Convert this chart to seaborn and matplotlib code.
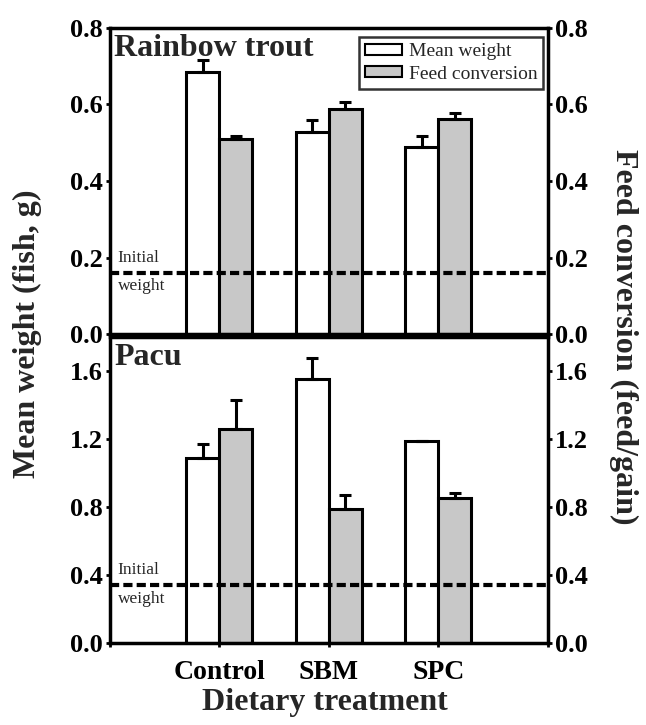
import matplotlib
matplotlib.use("Agg")
import matplotlib.pyplot as plt
import seaborn as sns
import pandas as pd
import numpy as np
from matplotlib.patches import Patch

sns.set_theme(style="white")
plt.rcParams['font.family'] = ['Liberation Serif', 'DejaVu Serif']
plt.rcParams['font.weight'] = 'bold'

treatments = ["Control", "SBM", "SPC"]
measures = ["Mean weight", "Feed conversion"]

trout_weight = [0.685, 0.528, 0.489]
trout_weight_err = [0.031, 0.032, 0.029]
trout_fcr = [0.510, 0.588, 0.562]
trout_fcr_err = [0.008, 0.018, 0.015]
trout_initial = 0.16

pacu_weight = [1.09, 1.553, 1.19]
pacu_weight_err = [0.08, 0.125, 0.0]
pacu_fcr = [1.26, 0.79, 0.855]
pacu_fcr_err = [0.17, 0.08, 0.03]
pacu_initial = 0.34

palette = {"Mean weight": "white", "Feed conversion": "#c8c8c8"}

fig = plt.figure(figsize=(6.46, 7.25), dpi=100)
ax_top = fig.add_axes([0.170, 0.5393, 0.678, 0.4221])
ax_bot = fig.add_axes([0.170, 0.1131, 0.678, 0.4221])

def draw(ax, w, we, f, fe, init, ylim, yticks, title, show_legend):
    df = pd.DataFrame({
        "treatment": treatments * 2,
        "measure": [measures[0]] * 3 + [measures[1]] * 3,
        "value": list(w) + list(f),
    })
    sns.barplot(data=df, x="treatment", y="value", hue="measure",
                order=treatments, hue_order=measures, palette=palette,
                edgecolor="black", linewidth=2.2, width=0.6, errorbar=None,
                ax=ax, legend=False, zorder=2, saturation=1)
    for cont, errs in zip(ax.containers, [we, fe]):
        xs = [p.get_x() + p.get_width() / 2 for p in cont]
        ys = [p.get_height() for p in cont]
        ax.errorbar(xs, ys, yerr=[np.zeros(len(errs)), errs], fmt="none",
                    ecolor="black", elinewidth=2.2, capsize=4, capthick=2.2,
                    zorder=3)
    ax.axhline(init, color="black", lw=3, ls=(0, (2.2, 1.0)), zorder=4)
    span = ylim[1] - ylim[0]
    ax.text(-0.93, init + 0.022 * span, "Initial", fontsize=12.5,
            fontweight="normal", ha="left", va="bottom", zorder=5)
    ax.text(-0.93, init - 0.018 * span, "weight", fontsize=12.5,
            fontweight="normal", ha="left", va="top", zorder=5)
    ax.set_xlim(-1, 3)
    ax.set_ylim(*ylim)
    ax.set_yticks(yticks)
    ax.set_yticklabels([f"{t:.1f}" for t in yticks])
    ax.set_xlabel("")
    ax.set_ylabel("")
    ax.text(-0.96, ylim[1] * 0.98, title, fontsize=23, fontweight="bold",
            ha="left", va="top", zorder=5)
    for s in ax.spines.values():
        s.set_linewidth(2.5)
        s.set_color("black")
    ax.tick_params(axis="y", which="both", direction="out", length=3, width=2,
                   left=True, right=True, labelleft=True, labelright=True,
                   labelsize=19, pad=2, colors="black")
    if show_legend:
        handles = [Patch(facecolor=palette[m], edgecolor="black", linewidth=1.5)
                   for m in measures]
        leg = ax.legend(handles, measures, loc="upper right",
                        bbox_to_anchor=(0.99, 0.97), borderaxespad=0,
                        prop={"family": "Liberation Serif", "weight": "normal", "size": 14},
                        frameon=True, fancybox=False, handlelength=1.9,
                        handleheight=0.5, handletextpad=0.35, borderpad=0.3,
                        labelspacing=0.3)
        leg.get_frame().set_edgecolor("black")
        leg.get_frame().set_linewidth(1.8)

draw(ax_top, trout_weight, trout_weight_err, trout_fcr, trout_fcr_err,
     trout_initial, (0, 0.8), [0.0, 0.2, 0.4, 0.6, 0.8], "Rainbow trout", True)
draw(ax_bot, pacu_weight, pacu_weight_err, pacu_fcr, pacu_fcr_err,
     pacu_initial, (0, 1.8), [0.0, 0.4, 0.8, 1.2, 1.6], "Pacu", False)

ax_top.set_xticks([])
ax_bot.set_xticks([-1, 0, 1, 2, 3])
ax_bot.set_xticklabels(["", "Control", "SBM", "SPC", ""])
ax_bot.tick_params(axis="x", direction="out", length=3, width=2, bottom=True,
                   labelsize=20, pad=9, colors="black")

fig.text(0.043, 0.539, "Mean weight (fish, g)", rotation=90, fontsize=23,
         fontweight="bold", ha="center", va="center")
fig.text(0.965, 0.535, "Feed conversion (feed/gain)", rotation=270, fontsize=23,
         fontweight="bold", ha="center", va="center")
fig.text(0.503, 0.031, "Dietary treatment", fontsize=23, fontweight="bold",
         ha="center", va="center")

fig.savefig("out.png", dpi=100)
